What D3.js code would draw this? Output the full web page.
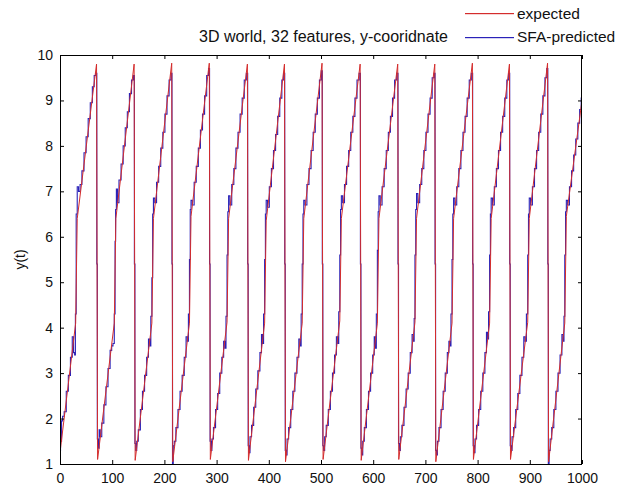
<!DOCTYPE html>
<html>
<head>
<meta charset="utf-8">
<script src="https://cdn.jsdelivr.net/npm/d3@7"></script>
<style>
  html, body { margin: 0; padding: 0; background: #fff; }
  svg { display: block; font-family: "Liberation Sans", Arial, sans-serif; }
  .tick text { font-size: 14px; fill: #111; }
</style>
</head>
<body>
<svg id="chart" width="619" height="488"></svg>
<script>
// ticks and labels
const xTicks = [0, 100, 200, 300, 400, 500, 600, 700, 800, 900, 1000];
const yTicks = [1, 2, 3, 4, 5, 6, 7, 8, 9, 10];
const titleText = '3D world, 32 features, y-cooridnate';
const yLabel = 'y(t)';
const seriesNames = ['expected', 'SFA-predicted'];
const seriesColors = ['#d42c2c', '#2a22b8'];

// expected y-coordinate, [t, value] corners of the sawtooth
const expected = [
  [0,1.25],[30,4.1],[33,6.4],[70,9.8],[71,5.45],[72,1.1],
  [104,4.1],[107,6.4],[142,9.8],[143,5.45],[144,1.08],
  [176,4.1],[179,6.4],[214,9.82],[215,5.45],[216,1.05],
  [248,4.1],[251,6.45],[286,9.82],[287,5.45],[288,1.1],
  [320,4.12],[323,6.4],[359,9.8],[360,5.45],[361,1.08],
  [392,4.1],[395,6.35],[430,9.8],[431,5.45],[432,1.05],
  [464,4.1],[467,6.4],[502,9.82],[503,5.45],[504,1.1],
  [536,4.15],[539,6.4],[575,9.8],[576,5.45],[577,1.08],
  [608,4.1],[611,6.4],[647,9.8],[648,5.45],[649,1.1],
  [680,4.12],[683,6.4],[718,9.8],[719,5.45],[720,1.05],
  [751,4.1],[754,6.4],[790,9.82],[791,5.45],[792,1.1],
  [823,4.1],[826,6.4],[861,9.8],[862,5.45],[863,1.1],
  [896,4.12],[899,6.4],[934,9.82],[935,5.45],[936,1.05],
  [967,4.1],[970,6.45],[1000,9.0]
];

// SFA-predicted
const predicted = [
  [0,1.3],[2,1.5],[4,1.95],[6,2.05],[10,2.15],[14,2.6],[18,2.95],[22,3.35],[25,3.8],[27,3.45],[29,3.4],[30,4.3],[32,6.5],[34,7.1],[37,7.0],[40,7.15],[44,7.45],[48,7.85],[52,8.2],[56,8.6],[60,8.95],[64,9.3],[67,9.55],[70,9.6],[71,5.4],
  [72,1.55],[74,1.35],[76,1.75],[78,1.6],[82,1.9],[86,2.3],[90,2.7],[94,3.1],[98,3.5],[100,3.6],[103,3.65],[105,4.3],[106,5.9],[107,6.6],[109,7.05],[111,6.75],[115,7.25],[119,7.6],[123,8.0],[127,8.4],[131,8.75],[135,9.15],[139,9.45],[142,9.55],[143,5.4],
  [144,1.45],[146,1.3],[148,1.5],[152,1.75],[156,2.2],[160,2.6],[164,2.95],[168,3.35],[171,3.75],[173,3.6],[175,4.25],[177,5.1],[178,6.5],[180,6.85],[183,6.75],[187,7.2],[191,7.55],[195,7.95],[199,8.3],[203,8.7],[207,9.1],[211,9.45],[214,9.6],[215,5.4],
  [216,1.0],[218,1.4],[220,1.5],[224,1.8],[228,2.2],[232,2.6],[236,2.95],[240,3.35],[243,3.8],[245,3.7],[247,4.3],[249,5.5],[250,6.6],[252,6.8],[255,6.7],[259,7.2],[263,7.55],[267,7.95],[271,8.35],[275,8.7],[279,9.1],[283,9.55],[286,9.7],[287,5.4],
  [288,1.5],[290,1.3],[292,1.55],[296,1.8],[300,2.2],[304,2.55],[308,3.0],[312,3.35],[315,3.7],[317,3.55],[319,4.25],[321,5.6],[322,6.55],[324,6.9],[327,6.7],[331,7.15],[335,7.5],[339,7.95],[343,8.3],[347,8.7],[351,9.05],[355,9.45],[359,9.6],[360,5.4],
  [361,1.4],[363,1.25],[365,1.6],[369,1.85],[373,2.25],[377,2.65],[381,3.05],[385,3.45],[387,3.85],[389,3.65],[391,4.3],[393,5.5],[394,6.5],[396,6.8],[399,6.65],[403,7.1],[407,7.5],[411,7.9],[415,8.25],[419,8.65],[423,9.05],[427,9.45],[430,9.6],[431,5.4],
  [432,1.3],[434,1.2],[436,1.55],[440,1.8],[444,2.2],[448,2.6],[452,3.0],[456,3.35],[459,3.75],[461,3.6],[463,4.3],[465,5.4],[466,6.5],[468,6.8],[471,6.7],[475,7.15],[479,7.5],[483,7.9],[487,8.3],[491,8.7],[495,9.05],[499,9.45],[502,9.65],[503,5.4],
  [504,1.4],[506,1.3],[508,1.6],[512,1.85],[516,2.2],[520,2.6],[524,3.0],[528,3.4],[531,3.8],[533,3.65],[535,4.35],[537,5.6],[538,6.6],[540,6.9],[543,6.75],[547,7.15],[551,7.55],[555,7.9],[559,8.3],[563,8.65],[567,9.05],[571,9.45],[575,9.6],[576,5.4],
  [577,1.35],[579,1.2],[581,1.5],[585,1.8],[589,2.2],[593,2.6],[597,3.0],[601,3.4],[603,3.8],[605,3.55],[607,4.3],[609,5.7],[610,6.55],[612,6.9],[615,6.7],[619,7.1],[623,7.5],[627,7.9],[631,8.3],[635,8.65],[639,9.05],[643,9.45],[647,9.6],[648,5.4],
  [649,1.45],[651,1.3],[653,1.6],[657,1.85],[661,2.25],[665,2.65],[669,3.0],[673,3.45],[676,3.85],[678,3.7],[679,4.2],[681,5.6],[682,6.6],[684,6.95],[687,6.75],[691,7.15],[695,7.5],[699,7.9],[703,8.3],[707,8.7],[711,9.05],[715,9.5],[718,9.6],[719,5.4],
  [720,1.3],[722,1.2],[724,1.5],[728,1.8],[732,2.2],[736,2.6],[740,3.0],[744,3.45],[746,3.7],[748,3.6],[750,4.3],[752,5.5],[753,6.5],[755,6.85],[758,6.7],[762,7.1],[766,7.5],[770,7.9],[774,8.3],[778,8.65],[782,9.05],[786,9.45],[790,9.6],[791,5.4],
  [792,1.4],[794,1.25],[796,1.55],[800,1.85],[804,2.2],[808,2.6],[812,3.0],[816,3.45],[818,3.9],[820,3.75],[822,4.35],[824,5.6],[825,6.5],[827,6.85],[830,6.7],[834,7.1],[838,7.5],[842,7.9],[846,8.3],[850,8.65],[854,9.05],[858,9.45],[861,9.6],[862,5.4],
  [863,1.4],[865,1.3],[867,1.6],[871,1.8],[875,2.2],[879,2.55],[883,2.95],[887,3.35],[890,3.8],[892,3.7],[895,4.3],[897,5.6],[898,6.5],[900,6.85],[903,6.7],[907,7.1],[911,7.5],[915,7.9],[919,8.3],[923,8.7],[927,9.1],[931,9.5],[934,9.7],[935,5.4],
  [936,1.0],[938,1.3],[940,1.55],[944,1.8],[948,2.2],[952,2.6],[956,3.0],[960,3.4],[963,3.85],[965,3.7],[966,4.25],[968,5.6],[969,6.55],[971,6.8],[974,6.7],[978,7.1],[982,7.45],[986,7.8],[990,8.15],[994,8.5],[997,8.8],[1000,9.05]
];

const plotLeft = 60, plotRight = 582, plotTop = 55, plotBottom = 464;

const svg = d3.select('#chart');

const x = d3.scaleLinear().domain([0, 1000]).range([plotLeft, plotRight]);
const y = d3.scaleLinear().domain([1, 10]).range([plotBottom, plotTop]);

svg.append('rect')
   .attr('width', 619).attr('height', 488)
   .attr('fill', '#fff');

svg.append('defs').append('clipPath').attr('id', 'plotClip')
   .append('rect')
   .attr('x', plotLeft).attr('y', plotTop)
   .attr('width', plotRight - plotLeft).attr('height', plotBottom - plotTop);

// curves: predicted underneath, expected on top
const plot = svg.append('g').attr('clip-path', 'url(#plotClip)');

const stepLine = d3.line()
  .x((d) => x(d[0]))
  .y((d) => y(d[1]))
  .curve(d3.curveStep);

const plainLine = d3.line()
  .x((d) => x(d[0]))
  .y((d) => y(d[1]));

plot.append('path')
    .datum(predicted)
    .attr('d', stepLine)
    .attr('fill', 'none')
    .attr('stroke', seriesColors[1])
    .attr('stroke-width', 1.1);

plot.append('path')
    .datum(expected)
    .attr('d', plainLine)
    .attr('fill', 'none')
    .attr('stroke', seriesColors[0])
    .attr('stroke-width', 1);

// axes, MATLAB style ticks pointing inward
const xAxis = svg.append('g')
  .attr('transform', `translate(0,${plotBottom})`)
  .call(d3.axisBottom(x).tickValues(xTicks).tickFormat(d3.format('d'))
          .tickSizeInner(-4).tickSizeOuter(0).tickPadding(9));

const yAxis = svg.append('g')
  .attr('transform', `translate(${plotLeft},0)`)
  .call(d3.axisLeft(y).tickValues(yTicks).tickFormat(d3.format('d'))
          .tickSizeInner(-4).tickSizeOuter(0).tickPadding(7));

const xTop = svg.append('g')
  .attr('transform', `translate(0,${plotTop})`)
  .call(d3.axisTop(x).tickValues(xTicks).tickSizeInner(-4).tickSizeOuter(0).tickFormat(''));

const yRight = svg.append('g')
  .attr('transform', `translate(${plotRight},0)`)
  .call(d3.axisRight(y).tickValues(yTicks).tickSizeInner(-4).tickSizeOuter(0).tickFormat(''));

[xAxis, yAxis, xTop, yRight].forEach((g) => {
  g.select('.domain').remove();
  g.selectAll('.tick line').attr('stroke', '#000');
});

svg.append('rect')
   .attr('x', plotLeft + 0.5).attr('y', plotTop + 0.5)
   .attr('width', plotRight - plotLeft - 1).attr('height', plotBottom - plotTop)
   .attr('fill', 'none')
   .attr('stroke', '#000');

// labels
svg.append('text')
   .attr('x', 448).attr('y', 42)
   .attr('text-anchor', 'end')
   .attr('font-size', 16)
   .attr('fill', '#111')
   .text(titleText);

svg.append('text')
   .attr('transform', `translate(25,${(plotTop + plotBottom) / 2}) rotate(-90)`)
   .attr('text-anchor', 'middle')
   .attr('font-size', 14)
   .attr('fill', '#111')
   .text(yLabel);

// legend (no box)
const legend = svg.append('g');
seriesNames.forEach((name, i) => {
  const ly = 13 + i * 23.5;
  legend.append('rect')
        .attr('x', 465).attr('y', Math.round(ly))
        .attr('width', 49).attr('height', 1.2)
        .attr('fill', seriesColors[i]);
  legend.append('text')
        .attr('x', 517).attr('y', ly + 5.5)
        .attr('font-size', 15.5)
        .attr('fill', '#111')
        .text(name);
});
</script>
</body>
</html>
